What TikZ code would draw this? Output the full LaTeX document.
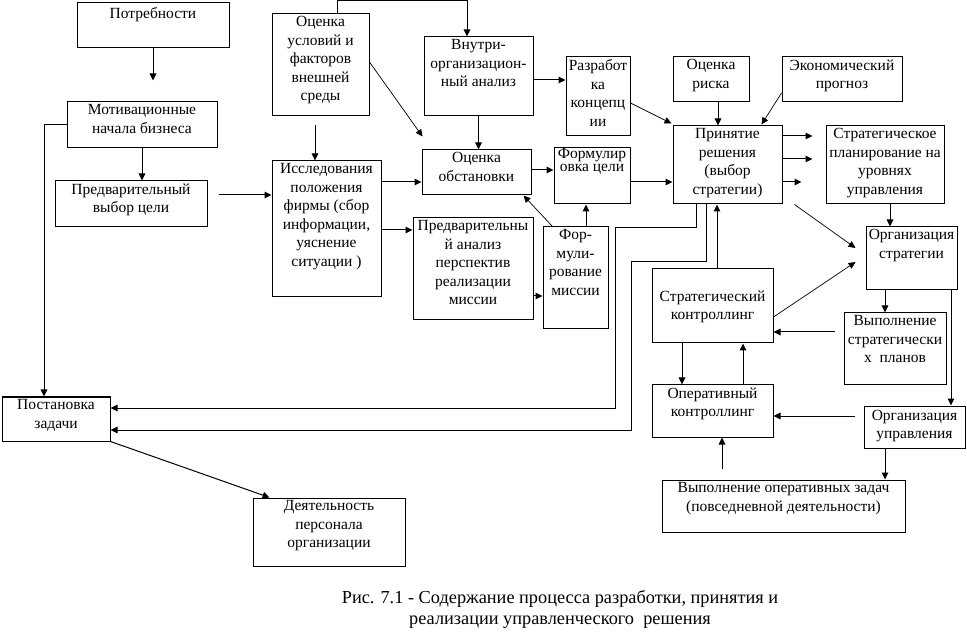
\documentclass[tikz,border=0pt]{standalone}
\usepackage{fontspec}
\setmainfont{Liberation Serif}
\usetikzlibrary{arrows.meta}
\usetikzlibrary{fit}

\newcommand{\boxfont}{\fontsize{15.5}{18.5}\selectfont}
\newcommand{\capfont}{\fontsize{18.3}{21}\selectfont}

\begin{document}
\begin{tikzpicture}[
  x=1pt, y=-1pt,
  blok/.style={draw, line width=1pt, inner sep=0pt},
  txt/.style={anchor=north, align=center, inner sep=0pt, yshift=-3pt, font=\boxfont, execute at begin node=\strut},
  arr/.style={-{Triangle[length=7pt, width=6.5pt]}, line width=1pt},
  diag/.style={arr, line width=0.7pt},
  capt/.style={align=center, font=\capfont}
]
\useasboundingbox (0,0) rectangle (967,636);

% Left column
\node[blok, fit={(77,3) (229,48)}] (potr) {};
\node[txt] (potr-t) at (potr.north) {Потребности};
\node[blok, fit={(67,102) (217,148)}] (motiv) {};
\node[txt] (motiv-t) at (motiv.north) {Мотивационные\\начала бизнеса};
\node[blok, fit={(55,181) (207,227)}] (vybor) {};
\node[txt] (vybor-t) at (vybor.north) {Предварительный\\выбор цели};
\node[blok, fit={(2,397) (110,441)}] (postan) {};
\node[txt] (postan-t) at (postan.north) {Постановка\\задачи};
\node[blok, fit={(253,498) (405,566)}] (deyat) {};
\node[txt] (deyat-t) at (deyat.north) {Деятельность\\персонала\\организации};

% Analysis
\node[blok, fit={(272,14) (369,116)}] (usl) {};
\node[txt] (usl-t) at (usl.north) {Оценка\\условий и\\факторов\\внешней\\среды};
\node[blok, fit={(272,161) (381,297)}] (issl) {};
\node[txt] (issl-t) at (issl.north) {Исследования\\положения\\фирмы (сбор\\информации,\\уяснение\\ситуации )};
\node[blok, fit={(424,37) (533,116)}] (vnutr) {};
\node[txt] (vnutr-t) at (vnutr.north) {Внутри-\\организацион-\\ный анализ};
\node[blok, fit={(422,150) (531,195)}] (obst) {};
\node[txt] (obst-t) at (obst.north) {Оценка\\обстановки};
\node[blok, fit={(413,218) (533,320)}] (analiz) {};
\node[txt] (analiz-t) at (analiz.north) {Предварительны\\й анализ\\перспектив\\реализации\\миссии};
\node[blok, fit={(566,57) (630,136)}] (razrab) {};
\node[txt] (razrab-t) at (razrab.north) {Разработ\\ка\\концепц\\ии};
\node[blok, fit={(554,148) (630,204)}] (formcel) {};
\node[txt, yshift=2.5pt, font=\fontsize{15.5}{13.5}\selectfont] (formcel-t) at (formcel.north) {Формулир\\овка цели};
\node[blok, fit={(543,227) (608,329)}] (missia) {};
\node[txt] (missia-t) at (missia.north) {Фор-\\мули-\\рование\\миссии};

% Decision and strategy
\node[blok, fit={(673,57) (749,102)}] (risk) {};
\node[txt] (risk-t) at (risk.north) {Оценка\\риска};
\node[blok, fit={(782,57) (902,102)}] (prognoz) {};
\node[txt] (prognoz-t) at (prognoz.north) {Экономический\\прогноз};
\node[blok, fit={(673,126) (782,204)}] (prin) {};
\node[txt] (prin-t) at (prin.north) {Принятие\\решения\\(выбор\\стратегии)};
\node[blok, fit={(826,126) (944,204)}] (plan) {};
\node[txt] (plan-t) at (plan.north) {Стратегическое\\планирование на\\уровнях\\управления};
\node[blok, fit={(866,227) (957,290)}] (orgstr) {};
\node[txt] (orgstr-t) at (orgstr.north) {Организация\\стратегии};
\node[blok, fit={(844,313) (946,385)}] (vypstr) {};
\node[txt] (vypstr-t) at (vypstr.north) {Выполнение\\стратегически\\х~~планов};
\node[blok, fit={(864,406) (965,448)}] (orgupr) {};
\node[txt, yshift=-1.5pt] (orgupr-t) at (orgupr.north) {Организация\\управления};
\node[blok, fit={(652,269) (773,343)}] (strk) {};
\node[txt, yshift=-19pt] (strk-t) at (strk.north) {Стратегический\\контроллинг};
\node[blok, fit={(652,385) (773,437)}] (opk) {};
\node[txt] (opk-t) at (opk.north) {Оперативный\\контроллинг};
\node[blok, fit={(662,480) (905,532)}] (vypop) {};
\node[txt] (vypop-t) at (vypop.north) {Выполнение оперативных задач\\(повседневной деятельности)};

% Caption
\node[capt] (cap) at (560,609) {Рис. 7.1 - Содержание процесса разработки, принятия и\\реализации управленческого~~решения};

% Connector points
\coordinate (v1) at ([yshift=9pt]vybor.east);
\coordinate (o1) at ([yshift=-9.5pt]obst.west);
\coordinate (a1) at ([yshift=39pt]analiz.west);
\coordinate (r1) at ([yshift=-3.5pt]vnutr.east);
\coordinate (f1) at ([yshift=2.5pt]obst.east);
\coordinate (f2) at ([yshift=-6pt]formcel.east);
\coordinate (m1) at ([xshift=10.5pt]missia.north);
\coordinate (m2) at ([yshift=-27pt]analiz.east);
\coordinate (s1) at ([xshift=-26.5pt]orgstr.south);
\coordinate (s2) at ([xshift=39.5pt]orgstr.south);
\coordinate (s3) at ([yshift=17pt]vypstr.west);
\coordinate (s4) at ([yshift=11pt]orgupr.west);
\coordinate (s5) at ([xshift=-29.5pt]orgupr.south);
\coordinate (s6) at ([xshift=9.5pt]opk.south);
\coordinate (s7) at ([xshift=4.5pt]strk.north);
\coordinate (s8) at ([xshift=-30.5pt]strk.south);
\coordinate (s9) at ([xshift=30.5pt]opk.north);

% Left side arrows
\draw[arr, shorten >=21pt] (potr) -- (potr |- motiv.north);
\draw[arr] (motiv.west) -| ([xshift=-12pt]postan.north);
\draw[arr] (motiv) -- (motiv |- vybor.north);
\draw[arr, shorten <=11pt] (v1) -- (issl.west |- v1);
\draw[arr] (postan.south east) -- ([xshift=17pt]deyat.north west);

% Analysis arrows
\draw[arr] ([xshift=16.5pt]usl.north) -- ++(0,-13) -| ([xshift=-11.5pt]vnutr.north);
\draw[arr, shorten <=9pt] ([xshift=-5.5pt]usl.south) -- ([xshift=-11.5pt]issl.north);
\draw[diag] ([yshift=3pt]usl.east) -- ([shift={(1pt,13pt)}]obst.north west);
\draw[arr] (issl.east |- o1) -- (o1);
\draw[arr] (issl.east |- a1) -- (a1);
\draw[arr] (r1) -- (razrab.west |- r1);
\draw[arr] (vnutr) -- (vnutr |- obst.north);
\draw[arr] (f1) -- (formcel.west |- f1);
\draw[arr] (f2) -- (prin.west |- f2);
\draw[arr] (m1) -- (m1 |- formcel.south);
\draw[diag] ([xshift=10pt]missia.north west) -- ([xshift=-8pt]obst.south east);
\draw[arr] (m2) -- (missia.west |- m2);

% Decision arrows
\draw[diag] ([yshift=-6.5pt]razrab.east) -- ([shift={(-1pt,2pt)}]prin.north west);
\draw[arr] ([xshift=7pt]risk.south) -- ([xshift=-9.5pt]prin.north);
\draw[diag] ([yshift=-13.5pt]prognoz.west) -- ([shift={(-21pt,1pt)}]prin.north east);
\foreach \dy/\gap in {29/13, 6/13, -17/24} {
  \coordinate (p) at ([yshift=\dy pt]prin.east);
  \draw[arr, shorten >=\gap pt] (p) -- (plan.west |- p);
}
\draw[diag] ([xshift=12pt]prin.south east) -- ([shift={(-10pt,10.5pt)}]orgstr.west);
\draw[arr] ([xshift=5pt]plan.south) -- ([xshift=-21.5pt]orgstr.north);
\draw[diag] ([yshift=-11pt]strk.east) -- ([shift={(-10pt,-3.5pt)}]orgstr.west);
\draw[arr] (s1) -- (s1 |- vypstr.north);
\draw[arr] (s2) -- (s2 |- orgupr.north);
\draw[arr, shorten <=9pt] (s3) -- (strk.east |- s3);
\draw[arr, shorten <=9pt] (s4) -- (opk.east |- s4);
\draw[arr] (s5) -- (s5 |- vypop.north);
\draw[arr, shorten <=11pt] (s6 |- vypop.north) -- (s6);
\draw[arr] (s7) -- (s7 |- prin.south);
\draw[arr] (s8) -- (s8 |- opk.north);
\draw[arr] (s9) -- (s9 |- strk.south);

% Feedback to task setting
\draw[arr] ([xshift=-31.5pt]prin.south) -- ++(0,23) -- ++(-81,0) |- ([yshift=11pt]postan.east);
\draw[arr] ([xshift=-21.5pt]prin.south) -- ++(0,57) -- ++(-75,0) |- ([yshift=-11pt]postan.east);

\end{tikzpicture}
\end{document}
